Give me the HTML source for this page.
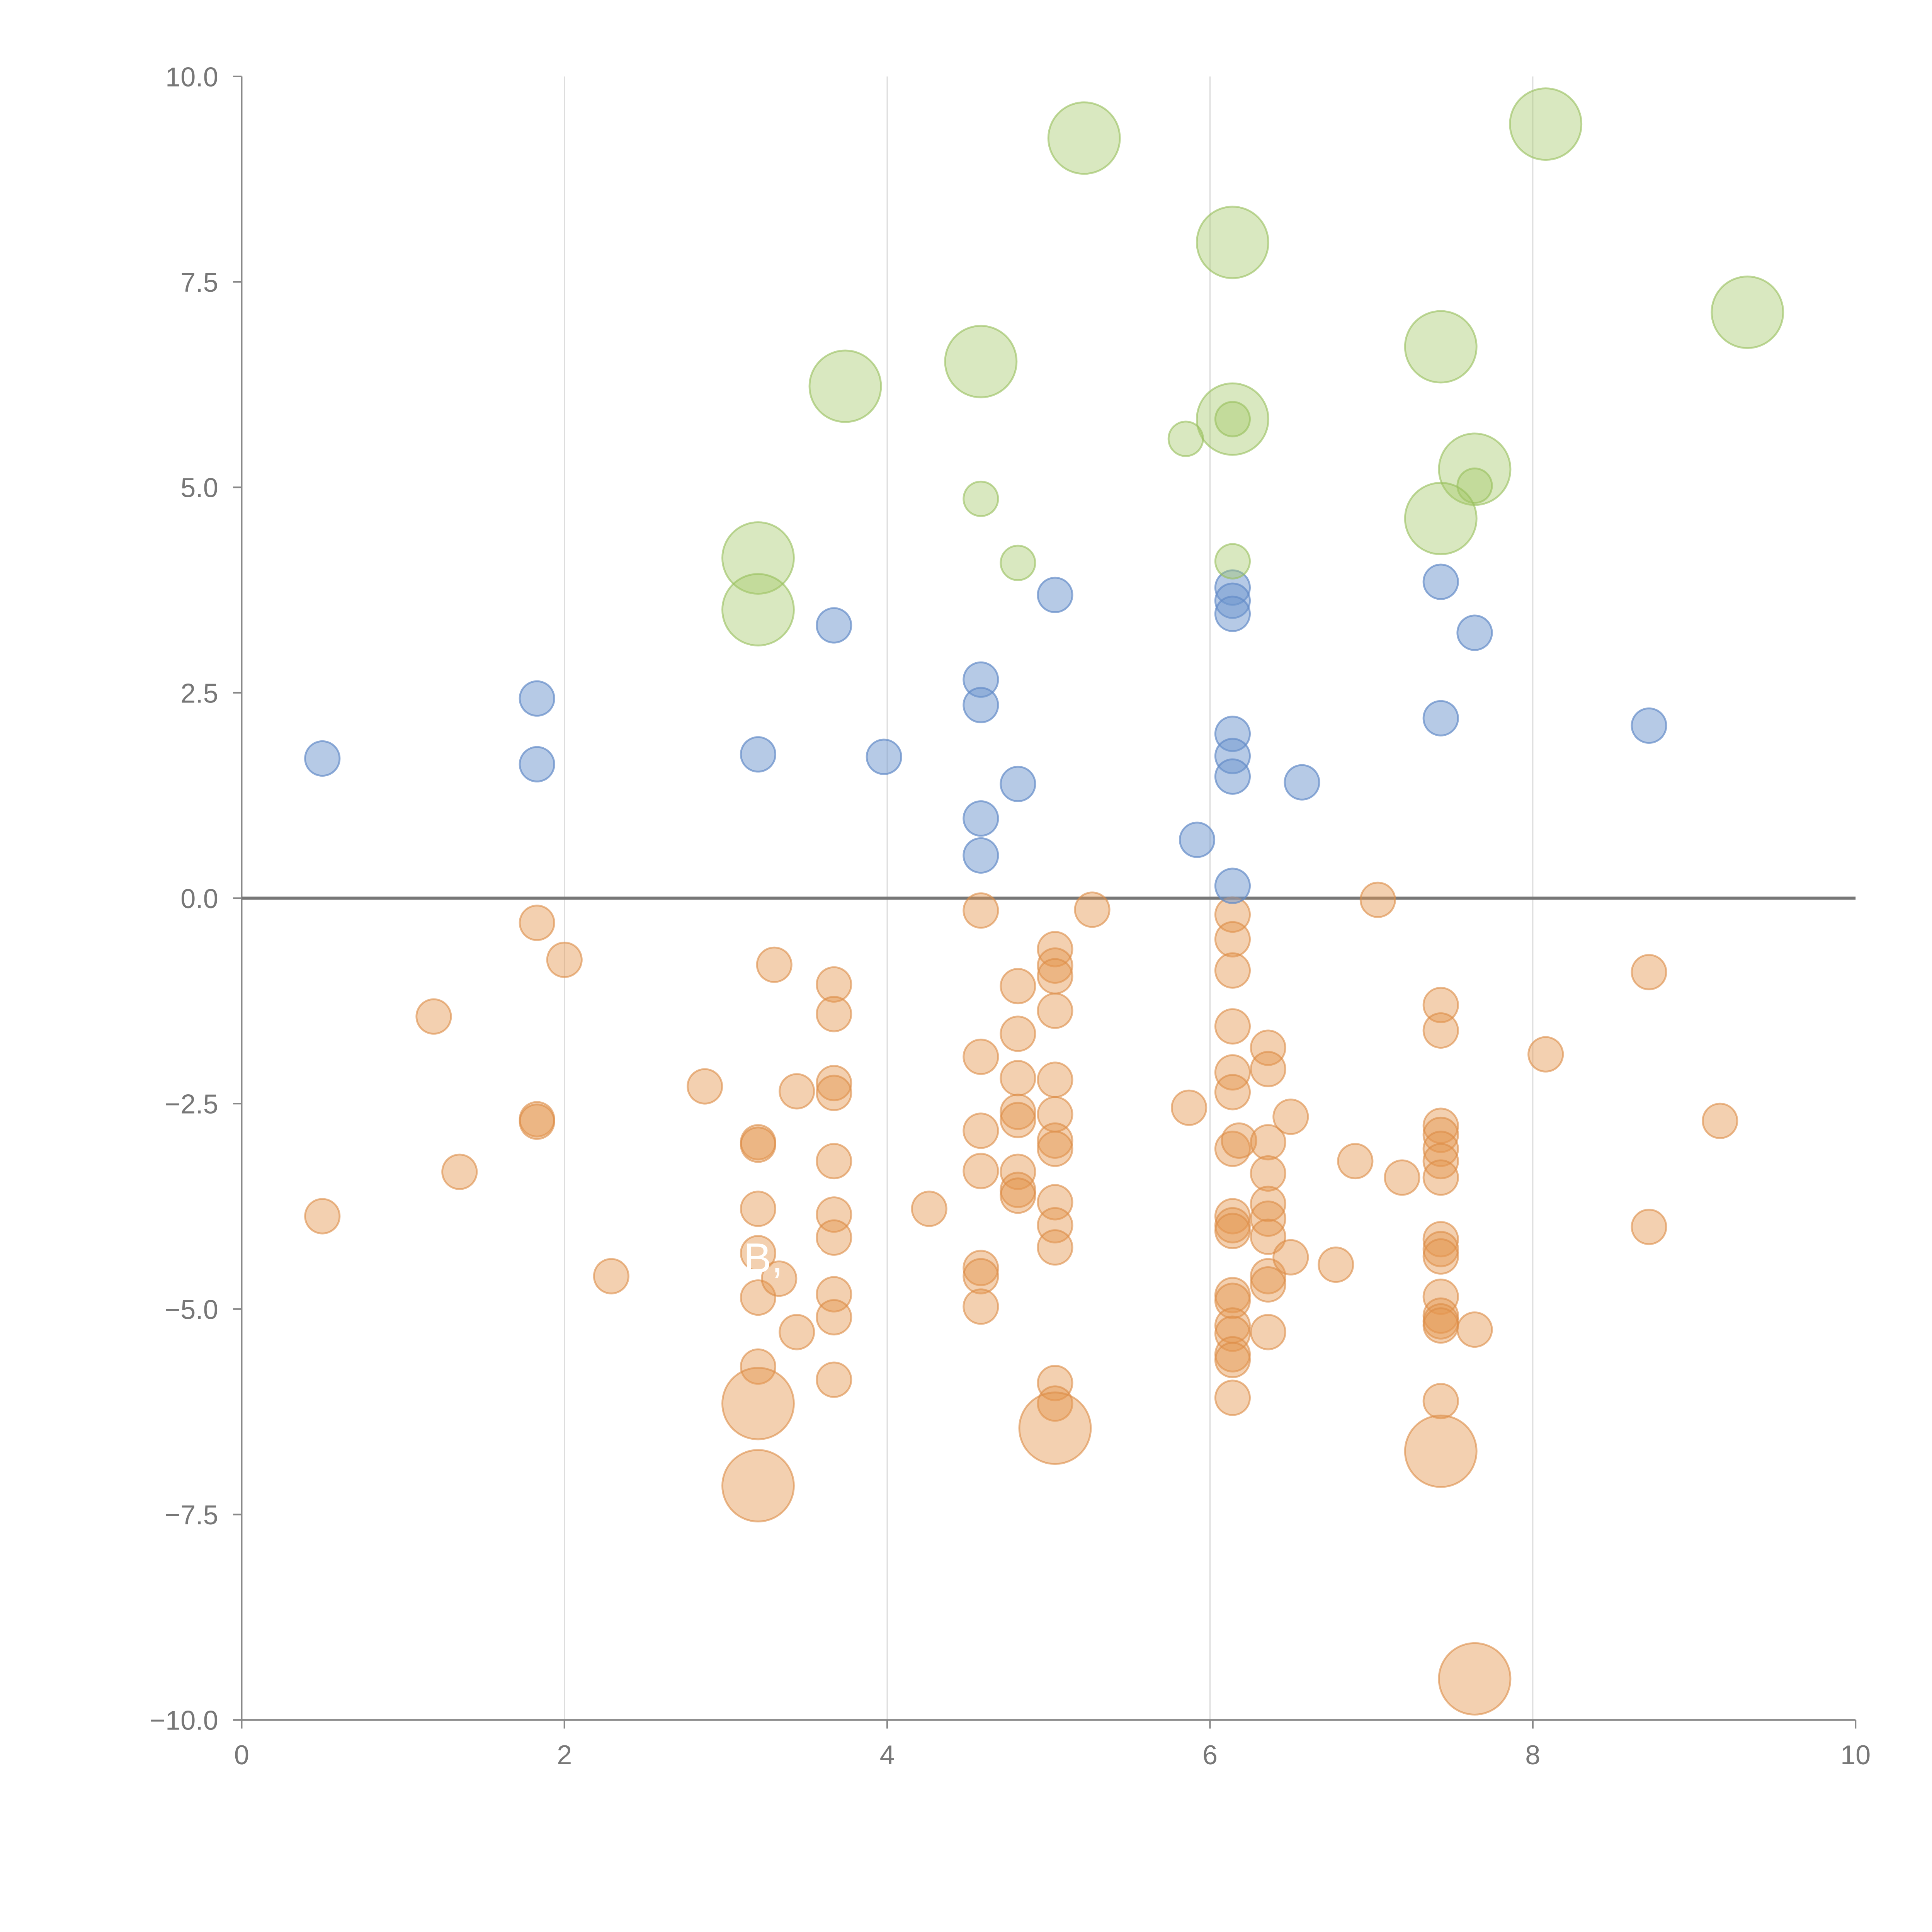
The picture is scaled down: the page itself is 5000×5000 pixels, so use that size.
<!DOCTYPE html>
<html><head><meta charset="utf-8"><style>
html,body{margin:0;padding:0;background:#fff;}
svg{display:block;}
text{font-family:"Liberation Sans",sans-serif;fill:#777;}
</style></head><body>
<svg id="chart" width="5000" height="5000" viewBox="0 0 1567 1567" xmlns="http://www.w3.org/2000/svg">
<g id="grid"></g>
<g id="axes"></g>
<g id="marks"></g>
<text x="603" y="1032" style="fill:#fff;font-size:34px">B, D</text>
</svg>
<script>
const xTicks=[0,2,4,6,8,10];
const yTicks=[10,7.5,5,2.5,0,-2.5,-5,-7.5,-10];
const blueX=[0.5,1.83,1.83,3.2,3.67,3.98,4.58,4.58,4.58,4.58,4.81,5.04,5.92,6.14,6.14,6.14,6.14,6.14,6.14,6.14,6.57,7.43,7.43,7.64,8.72];
const blueY=[1.7,2.43,1.63,1.75,3.32,1.72,2.66,2.35,0.97,0.52,1.39,3.69,0.71,3.78,3.62,3.46,2.0,1.73,1.48,0.15,1.41,3.85,2.19,3.23,2.1];
const greenX=[5.22,8.08,6.14,9.33,7.43,4.58,3.74,6.14,6.14,5.85,7.64,7.64,7.43,4.58,4.81,6.14,3.2,3.2];
const greenY=[9.25,9.42,7.98,7.13,6.71,6.53,6.23,5.83,5.83,5.59,5.22,5.02,4.62,4.86,4.08,4.1,4.14,3.51];
const greenSize=[2,2,2,2,2,2,2,2,1,1,2,1,2,1,1,1,2,2];
const orangeCols=[
[0.5,[-3.87]],[1.19,[-1.44]],[1.35,[-3.33]],[1.83,[-0.3,-2.69,-2.72]],[2.0,[-0.75]],[2.29,[-4.6]],[2.87,[-2.29]],
[3.2,[-2.97,-3.0,-3.78,-4.32,-4.86,-5.7]],[3.3,[-0.81]],[3.33,[-4.63]],[3.44,[-2.35,-5.28]],
[3.67,[-1.05,-1.41,-2.25,-2.37,-3.2,-3.85,-4.13,-4.82,-5.1,-5.86]],[4.26,[-3.78]],
[4.58,[-0.15,-1.93,-2.83,-3.32,-4.5,-4.6,-4.97]],[4.81,[-1.07,-1.65,-2.19,-2.6,-2.7,-3.33,-3.55,-3.62]],
[5.04,[-0.62,-0.82,-0.95,-1.37,-2.21,-2.63,-2.95,-3.05,-3.7,-3.98,-4.25,-5.9,-6.15]],[5.27,[-0.14]],[5.87,[-2.55]],
[6.14,[-0.2,-0.5,-0.88,-1.56,-2.12,-2.36,-3.05,-3.87,-3.98,-4.05,-4.83,-4.9,-5.2,-5.3,-5.55,-5.62,-6.08]],[6.18,[-2.95]],
[6.36,[-1.82,-2.08,-2.97,-3.35,-3.72,-3.9,-4.12,-4.6,-4.7,-5.28]],[6.5,[-2.66,-4.37]],[6.78,[-4.46]],[6.9,[-3.2]],
[7.04,[-0.02]],[7.19,[-3.4]],[7.43,[-1.3,-1.61,-2.77,-2.88,-3.05,-3.2,-3.4,-4.15,-4.27,-4.36,-4.85,-5.08,-5.15,-5.2,-6.12]],
[7.64,[-5.25]],[8.08,[-1.9]],[8.72,[-0.9,-4.0]],[9.16,[-2.71]]];
const orangeBigX=[3.2,3.2,5.04,7.43,7.64];
const orangeBigY=[-6.15,-7.15,-6.45,-6.73,-9.5];

const NS="http://www.w3.org/2000/svg";
const X0=196,X1=1505,Y0=1395,Y1=62;
const sx=v=>X0+(v-0)/(10-0)*(X1-X0);
const sy=v=>Y0-(v+10)/20*(Y0-Y1);
function mk(tag,attrs,parent){const e=document.createElementNS(NS,tag);for(const k in attrs)e.setAttribute(k,attrs[k]);parent.appendChild(e);return e;}
const grid=document.getElementById('grid'),axes=document.getElementById('axes'),marks=document.getElementById('marks');
xTicks.forEach(t=>{
 if(t>0&&t<10){const g=mk('line',{x1:sx(t),x2:sx(t),y1:Y1,y2:Y0,stroke:'#ddd','stroke-width':1},grid);
 
 }
 const tk=mk('line',{x1:sx(t),x2:sx(t),y1:Y0,y2:Y0+7,stroke:'#888','stroke-width':1.3},axes);
 
 
 const tx=mk('text',{x:sx(t),y:Y0+36,'text-anchor':'middle','font-size':22},axes);tx.textContent=t;
 
 
});
yTicks.forEach(t=>{
 const tk=mk('line',{x1:X0-7,x2:X0,y1:sy(t),y2:sy(t),stroke:'#888','stroke-width':1.3},axes);
 
 
 const tx=mk('text',{x:X0-19,y:sy(t)+8,'text-anchor':'end','font-size':22},axes);tx.textContent=t.toFixed(1).replace('-','\u2212');
 
 
});
let a=mk('line',{x1:X0,x2:X0,y1:Y1,y2:Y0,stroke:'#888','stroke-width':1.3},axes);


a=mk('line',{x1:X0,x2:X1,y1:Y0,y2:Y0,stroke:'#888','stroke-width':1.3},axes);


a=mk('line',{x1:X0,x2:X1,y1:sy(0),y2:sy(0),stroke:'#777','stroke-width':2.5},axes);


function dot(x,y,r,fill,stroke,name){
 const c=mk('circle',{cx:sx(x),cy:sy(y),r:r,fill:fill,stroke:stroke,'stroke-width':1.5},marks);
 
 
}
const OF='rgba(228,150,80,0.45)',OS='rgba(220,140,70,0.6)';
orangeCols.forEach(([x,ys])=>ys.forEach(y=>dot(x,y,14,OF,OS,'orange-bubble')));
orangeBigX.forEach((x,i)=>dot(x,orangeBigY[i],29,OF,OS,'orange-bubble-large'));
blueX.forEach((x,i)=>dot(x,blueY[i],14,'rgba(110,150,205,0.5)','rgba(100,140,200,0.7)','blue-bubble'));
greenX.forEach((x,i)=>dot(x,greenY[i],greenSize[i]==2?29:14,'rgba(165,200,105,0.42)','rgba(150,190,90,0.6)','green-bubble'));
</script>
</body></html>
